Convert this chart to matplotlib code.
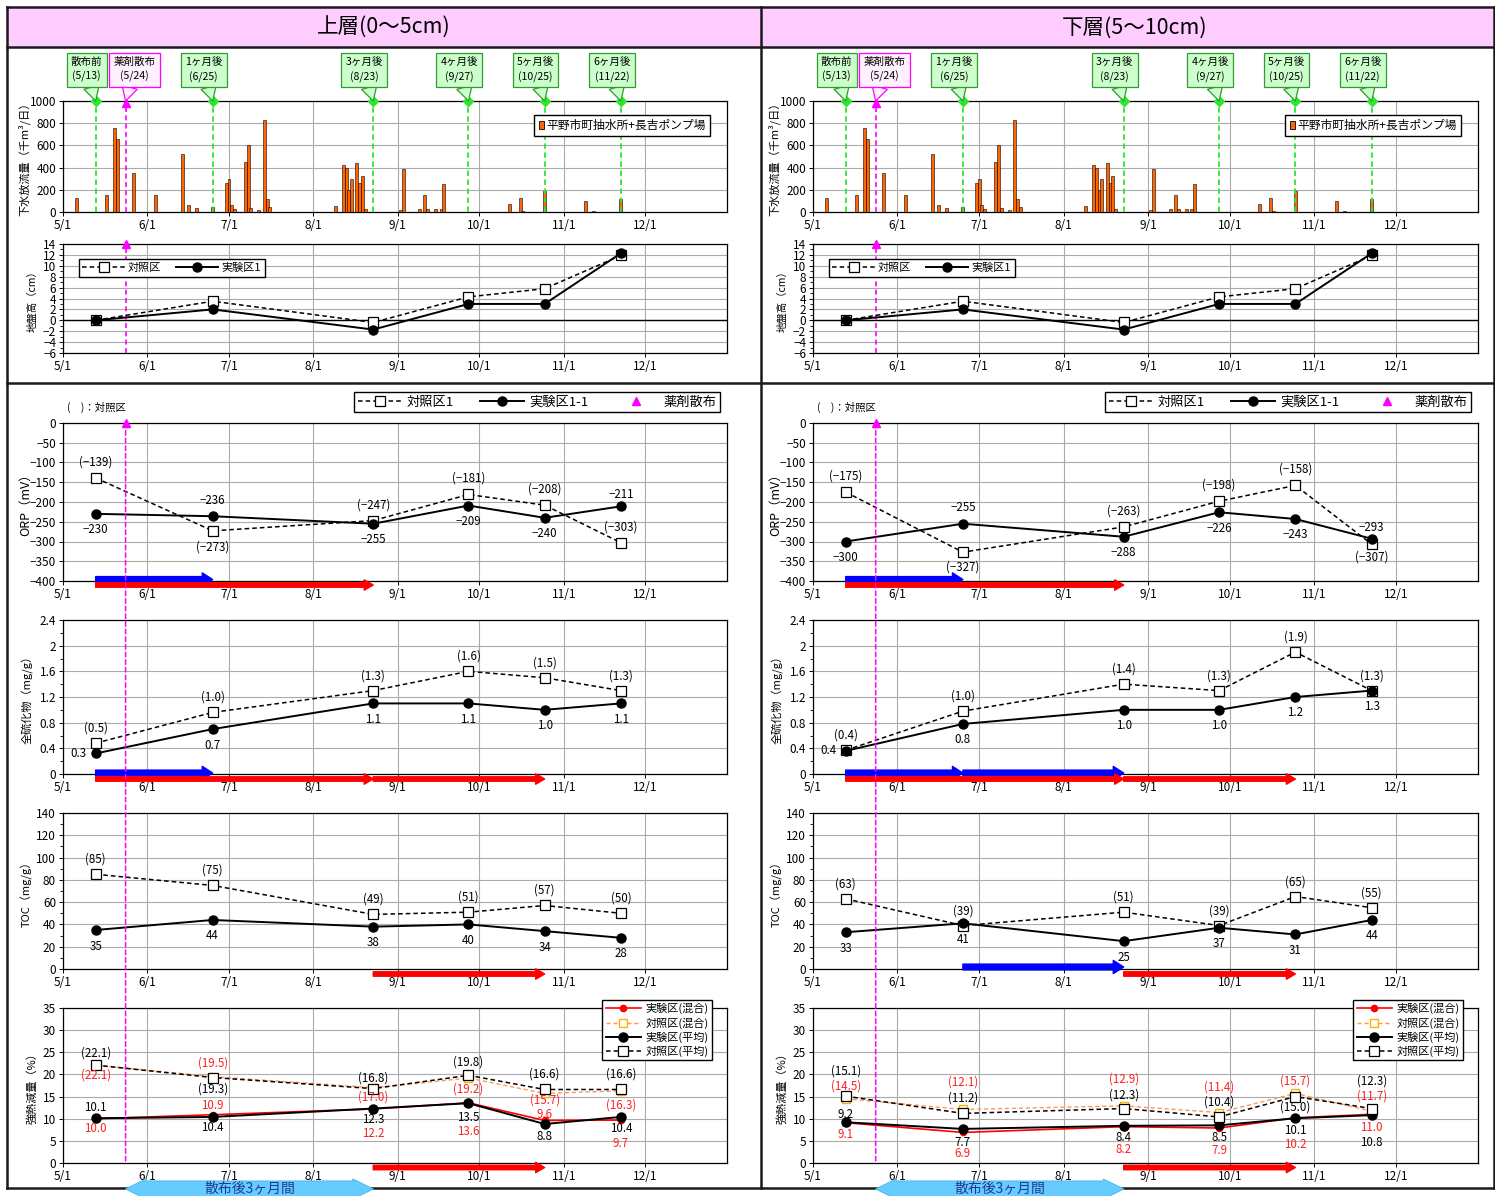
import datetime
import matplotlib
matplotlib.use('Agg')
import matplotlib.pyplot as plt
import matplotlib.dates as mdates
import matplotlib.transforms as mtransforms
from matplotlib import font_manager
from matplotlib.lines import Line2D
from matplotlib.patches import Rectangle, Polygon, ConnectionPatch
from matplotlib.ticker import MultipleLocator, AutoMinorLocator, FuncFormatter

YEAR = 2013

# --- events -------------------------------------------------------------
sample_dates = ['5/13', '6/25', '8/23', '9/27', '10/25', '11/22']
sample_names = ['散布前', '1ヶ月後', '3ヶ月後', '4ヶ月後', '5ヶ月後', '6ヶ月後']
spray_date = '5/24'
spray_name = '薬剤散布'

# --- daily sewage discharge (千m3/日) -----------------------------------
flow_dates = ['5/6', '5/17', '5/20', '5/21', '5/27', '6/4', '6/14', '6/16', '6/19', '6/25',
              '6/30', '7/1', '7/2', '7/3', '7/7', '7/8', '7/9', '7/12', '7/14', '7/15', '7/16',
              '8/9', '8/12', '8/13', '8/14', '8/15', '8/17', '8/18', '8/19', '8/20',
              '9/2', '9/3', '9/9', '9/11', '9/12', '9/15', '9/17', '9/18',
              '10/12', '10/16', '10/17', '10/25', '11/9', '11/12', '11/22']
flow_values = [130, 155, 760, 660, 350, 150, 520, 65, 40, 45,
               260, 295, 60, 30, 450, 600, 40, 20, 830, 115, 45,
               55, 425, 400, 200, 295, 445, 265, 325, 30,
               20, 390, 30, 150, 30, 30, 25, 255,
               75, 130, 10, 190, 100, 10, 120]

# --- ground height (cm) --------------------------------------------------
ground_ctl = [0.0, 3.5, -0.4, 4.3, 5.8, 11.9]
ground_exp = [0.0, 2.0, -1.7, 3.0, 3.0, 12.3]

# --- ORP (mV) -------------------------------------------------------------
orp_ctl_up = [-139, -273, -247, -181, -208, -303]
orp_exp_up = [-230, -236, -255, -209, -240, -211]
orp_ctl_lo = [-175, -327, -263, -198, -158, -307]
orp_exp_lo = [-300, -255, -288, -226, -243, -293]

# --- total sulfide (mg/g) ---------------------------------------------------
sulf_ctl_up = [0.48, 0.96, 1.30, 1.60, 1.50, 1.30]
sulf_exp_up = [0.32, 0.70, 1.10, 1.10, 1.00, 1.10]
sulf_ctl_lo = [0.37, 0.98, 1.40, 1.30, 1.90, 1.30]
sulf_exp_lo = [0.36, 0.78, 1.00, 1.00, 1.20, 1.30]

# --- TOC (mg/g) -----------------------------------------------------------
toc_ctl_up = [85, 75, 49, 51, 57, 50]
toc_exp_up = [35, 44, 38, 40, 34, 28]
toc_ctl_lo = [63, 39, 51, 39, 65, 55]
toc_exp_lo = [33, 41, 25, 37, 31, 44]

# --- ignition loss (%) ------------------------------------------------------
ign_exp_mix_up = [10.0, 10.9, 12.2, 13.6, 9.6, 9.7]
ign_ctl_mix_up = [22.1, 19.5, 17.0, 19.2, 15.7, 16.3]
ign_exp_avg_up = [10.1, 10.4, 12.3, 13.5, 8.8, 10.4]
ign_ctl_avg_up = [22.1, 19.3, 16.8, 19.8, 16.6, 16.6]
ign_exp_mix_lo = [9.1, 6.9, 8.2, 7.9, 10.2, 11.0]
ign_ctl_mix_lo = [14.5, 12.1, 12.9, 11.4, 15.7, 11.7]
ign_exp_avg_lo = [9.2, 7.7, 8.4, 8.5, 10.1, 10.8]
ign_ctl_avg_lo = [15.1, 11.2, 12.3, 10.4, 15.0, 12.3]

# --- period arrows under the charts (start, end) ---------------------------
orp_blue_up, orp_red_up = [('5/13', '6/25')], [('5/13', '8/23')]
sulf_blue_up, sulf_red_up = [('5/13', '6/25')], [('5/13', '8/23'), ('8/23', '10/25')]
toc_blue_up, toc_red_up = [], [('8/23', '10/25')]
ign_red_up = [('8/23', '10/25')]
orp_blue_lo, orp_red_lo = [('5/13', '6/25')], [('5/13', '8/23')]
sulf_blue_lo = [('5/13', '6/25'), ('6/25', '8/23')]
sulf_red_lo = [('5/13', '8/23'), ('8/23', '10/25')]
toc_blue_lo, toc_red_lo = [('6/25', '8/23')], [('8/23', '10/25')]
ign_red_lo = [('8/23', '10/25')]
span_label = '散布後3ヶ月間'
span_period = ('5/24', '8/23')

# --- label offsets in pixels (+ = up) --------------------------------------
orp_ctl_up_dy = [16, -16, 16, 16, 16, 16]
orp_exp_up_dy = [-16, 16, -16, -16, -16, 12]
orp_ctl_lo_dy = [16, -15, 16, 16, 16, -13]
orp_exp_lo_dy = [-16, 16, -16, -16, -16, 11]
ign_up_dy = dict(exp_mix=[-10, 9, -25, -29, 6, -23], ctl_mix=[-10, 14, -9, -11, -7, -14],
                 exp_avg=[11, -11, -11, -14, -12, -12], ctl_avg=[12, -12, 11, 13, 15, 15])
ign_lo_dy = dict(exp_mix=[-12, -21, -23, -22, -27, -13], ctl_mix=[13, 27, 27, 25, 12, 15],
                 exp_avg=[8, -14, -12, -12, -12, -27], ctl_avg=[25, 15, 13, 15, -10, 27])

# ---------------------------------------------------------------------------
plt.rcParams['font.family'] = ['Noto Sans CJK JP', 'DejaVu Sans']
installed = {f.name for f in font_manager.fontManager.ttflist}
if 'Liberation Sans Narrow' in installed:
    NUM_FONT = ['Liberation Sans Narrow', 'Noto Sans CJK JP', 'DejaVu Sans']
else:
    NUM_FONT = ['Noto Sans CJK JP', 'DejaVu Sans']

MAG = '#FF00FF'
GRN = '#2EE62E'
RED = '#FF0000'
BLUE = '#0000FF'


def dn(s):
    m, d = s.split('/')
    return mdates.date2num(datetime.date(YEAR, int(m), int(d)))


def md(v, pos=None):
    t = mdates.num2date(v)
    return f'{t.month}/{t.day}'


def minus(v):
    return str(v).replace('-', '\u2212')


W, H = 1495, 1196
fig = plt.figure(figsize=(W / 100, H / 100), dpi=100)

ROWS = {'flow': (101, 212), 'ground': (244, 353), 'orp': (423, 581),
        'sulf': (620, 774), 'toc': (813, 969), 'ign': (1008, 1163)}

CTL = dict(color='black', ls=(0, (3, 2)), lw=1.1, marker='s', ms=6.5, mfc='white', mec='black', mew=0.9)
EXP = dict(color='black', ls='-', lw=1.4, marker='o', ms=6.5, mfc='black', mec='black')
EXP_MIX = dict(color=RED, ls='-', lw=1.2, marker='o', ms=4.5, mfc=RED, mec=RED)
CTL_MIX = dict(color='#FF9955', ls=(0, (3, 2)), lw=1.0, marker='s', ms=5.5, mfc='white', mec='#FFB000', mew=1.0)

xs = [dn(s) for s in sample_dates]
xspray = dn(spray_date)


def frame_line(px, py, lw=1.8):
    fig.add_artist(Line2D([x / W for x in px], [1 - y / H for y in py], transform=fig.transFigure,
                          color='#1a1a1a', lw=lw, zorder=-1))


def make_ax(px0, px1, row):
    top, bot = ROWS[row]
    return fig.add_axes([px0 / W, 1 - bot / H, (px1 - px0) / W, (bot - top) / H])


def style(ax, lo, hi, step, ylabel, lab_x, minor=False, fmt=None, ylab_size=8):
    ax.set_xlim(dn('5/1'), dn('12/31'))
    ax.set_ylim(lo, hi)
    ax.yaxis.set_major_locator(MultipleLocator(step))
    if fmt is not None:
        ax.yaxis.set_major_formatter(FuncFormatter(fmt))
    if minor:
        ax.yaxis.set_minor_locator(AutoMinorLocator(2))
    ax.xaxis.set_major_locator(mdates.MonthLocator())
    ax.xaxis.set_major_formatter(FuncFormatter(md))
    ax.grid(True, which='major', color='#ABABAB', lw=0.8)
    ax.set_axisbelow(True)
    ax.tick_params(which='major', labelsize=8.5, length=3, width=0.7, pad=2, labelfontfamily=NUM_FONT)
    ax.tick_params(which='minor', length=2, width=0.6)
    for sp in ax.spines.values():
        sp.set_linewidth(0.9)
    ax.set_ylabel(ylabel, fontsize=ylab_size, va='center')
    ax.yaxis.set_label_coords(lab_x, 0.5)


def point_labels(ax, vals, fmt, dys, color='black', dxs=None):
    for i, (x, v) in enumerate(zip(xs, vals)):
        dx = dxs[i] if dxs else 0
        ax.annotate(fmt(v), (x, v), xytext=(dx * 0.72, dys[i] * 0.72), textcoords='offset points',
                    ha='center', va='center', fontsize=8.3, color=color, family=NUM_FONT, zorder=6)


def period_arrows(ax, periods, color, ypx, big):
    hpx = ax.bbox.height
    y = ypx / hpx
    if big:
        st = 'simple,head_length=0.75,head_width=0.95,tail_width=0.42'
    else:
        st = 'simple,head_length=0.65,head_width=0.75,tail_width=0.32'
    for a, b in periods:
        ax.annotate('', xy=(dn(b), y), xytext=(dn(a), y), xycoords=('data', 'axes fraction'),
                    textcoords=('data', 'axes fraction'), annotation_clip=False,
                    arrowprops=dict(arrowstyle=st, color=color, shrinkA=0, shrinkB=0, mutation_scale=10),
                    zorder=7)


def span_arrow(ax):
    trans = mtransforms.blended_transform_factory(ax.transData, ax.transAxes)
    x0, x1 = dn(span_period[0]), dn(span_period[1])
    hpx = ax.bbox.height
    yc, sh, hh, hl = -26 / hpx, 8 / hpx, 10 / hpx, 7.5
    pts = [(x0, yc), (x0 + hl, yc + hh), (x0 + hl, yc + sh), (x1 - hl, yc + sh), (x1 - hl, yc + hh),
           (x1, yc), (x1 - hl, yc - hh), (x1 - hl, yc - sh), (x0 + hl, yc - sh), (x0 + hl, yc - hh)]
    ax.add_patch(Polygon(pts, closed=True, transform=trans, fc='#66CCFF', ec='#55BBEE', lw=0.8,
                         clip_on=False, zorder=10))
    ax.text((x0 + x1) / 2, yc, span_label, transform=trans, ha='center', va='center', fontsize=10,
            color='#1F3A93', clip_on=False, zorder=11)


def draw_panel(px0, px1, title, d):
    # --- discharge bars with sampling callouts
    ax = make_ax(px0, px1, 'flow')
    style(ax, 0, 1000, 200, '下水放流量（千m³/日）', -0.058)
    ax.bar([dn(s) for s in flow_dates], flow_values, width=1.1, color='#FF6600', ec='black', lw=0.4,
           zorder=3)
    for s, nm in zip(sample_dates, sample_names):
        x = dn(s)
        ax.axvline(x, color=GRN, ls=(0, (3, 2)), lw=1.3, zorder=4)
        ax.plot([x], [1000], marker='D', ms=5.5, color=GRN, clip_on=False, zorder=6)
        ax.annotate(f'{nm}\n({s})', xy=(x, 1.0), xycoords=('data', 'axes fraction'),
                    xytext=(-6.5, 22.5), textcoords='offset points', ha='center', va='center',
                    fontsize=7.6, linespacing=1.45, annotation_clip=False, zorder=7,
                    bbox=dict(boxstyle='square,pad=0.4', fc='#CCFFCC', ec='#339933', lw=0.9),
                    arrowprops=dict(arrowstyle='wedge,tail_width=1.5', fc='#CCFFCC', ec='#339933',
                                    lw=0.9, shrinkA=0, shrinkB=0))
    ax.axvline(xspray, color=MAG, ls=(0, (3, 2)), lw=1.2, zorder=4)
    ax.plot([xspray], [985], marker='^', ms=6, color=MAG, clip_on=False, zorder=6)
    ax.annotate(f'{spray_name}\n({spray_date})', xy=(xspray, 1.0), xycoords=('data', 'axes fraction'),
                xytext=(6.5, 22.5), textcoords='offset points', ha='center', va='center',
                fontsize=7.6, linespacing=1.45, annotation_clip=False, zorder=7,
                bbox=dict(boxstyle='square,pad=0.4', fc='#FFF0FF', ec=MAG, lw=0.9),
                arrowprops=dict(arrowstyle='wedge,tail_width=1.5', fc='#FFF0FF', ec=MAG,
                                lw=0.9, shrinkA=0, shrinkB=0))
    ax.legend([Rectangle((0, 0), 1, 1, fc='#FF6600', ec='black', lw=0.6)], ['平野市町抽水所+長吉ポンプ場'],
              loc='upper right', bbox_to_anchor=(0.983, 0.93), fontsize=8.5, handlelength=0.45,
              handleheight=0.7, handletextpad=0.2, fancybox=False, edgecolor='black', framealpha=1,
              borderpad=0.35)

    # --- ground height
    ax = make_ax(px0, px1, 'ground')
    style(ax, -6, 14, 2, '地盤高（cm）', -0.045, minor=True, ylab_size=7.5)
    ax.axhline(0, color='black', lw=1.0, zorder=2)
    ax.axvline(xspray, color=MAG, ls=(0, (3, 2)), lw=1.2, zorder=3)
    ax.plot([xspray], [14], marker='^', ms=6, color=MAG, clip_on=False, zorder=6)
    ax.plot(xs, ground_ctl, **CTL, zorder=4)
    ax.plot(xs, ground_exp, **EXP, zorder=5)
    ax.legend([Line2D([], [], **CTL), Line2D([], [], **EXP)], ['対照区', '実験区1'], loc='upper left',
              bbox_to_anchor=(0.015, 0.91), ncol=2, fontsize=8, handlelength=3.8, columnspacing=1.3,
              handletextpad=0.3, fancybox=False, edgecolor='black', framealpha=1, borderpad=0.35)

    # --- ORP
    ax_orp = make_ax(px0, px1, 'orp')
    style(ax_orp, -400, 0, 50, 'ORP（mV）', -0.056, ylab_size=9)
    ax_orp.plot(xs, d['orp_ctl'], **CTL, zorder=4)
    ax_orp.plot(xs, d['orp_exp'], **EXP, zorder=5)
    point_labels(ax_orp, d['orp_ctl'], lambda v: f'({minus(v)})', d['orp_ctl_dy'])
    point_labels(ax_orp, d['orp_exp'], minus, d['orp_exp_dy'])
    ax_orp.plot([xspray], [0], marker='^', ms=6, color=MAG, clip_on=False, zorder=8)
    ax_orp.legend([Line2D([], [], **CTL), Line2D([], [], **EXP),
                   Line2D([], [], ls='none', marker='^', ms=6, color=MAG)],
                  ['対照区1', '実験区1-1', '薬剤散布'], loc='lower right', bbox_to_anchor=(1.0, 1.025),
                  ncol=3, fontsize=9.5, handlelength=3.3, columnspacing=2.0, handletextpad=0.4,
                  fancybox=False, edgecolor='black', framealpha=1, borderpad=0.3)
    ax_orp.text(0.006, 1.10, '(\u3000)：対照区', transform=ax_orp.transAxes, fontsize=7.5, va='center')
    period_arrows(ax_orp, d['orp_blue'], BLUE, 1.5, True)
    period_arrows(ax_orp, d['orp_red'], RED, -4, False)

    # --- total sulfide
    ax = make_ax(px0, px1, 'sulf')
    style(ax, 0, 2.4, 0.4, '全硫化物（mg/g）', -0.054, minor=True, fmt=lambda v, p: f'{v:g}')
    ax.plot(xs, d['sulf_ctl'], **CTL, zorder=4)
    ax.plot(xs, d['sulf_exp'], **EXP, zorder=5)
    point_labels(ax, d['sulf_ctl'], lambda v: f'({v:.1f})', [15] * 6)
    point_labels(ax, d['sulf_exp'], lambda v: f'{v:.1f}', [0] + [-16] * 5, dxs=[-17, 0, 0, 0, 0, 0])
    period_arrows(ax, d['sulf_blue'], BLUE, 1, True)
    period_arrows(ax, d['sulf_red'], RED, -5, False)

    # --- TOC
    ax = make_ax(px0, px1, 'toc')
    style(ax, 0, 140, 20, 'TOC（mg/g）', -0.054, minor=True)
    ax.plot(xs, d['toc_ctl'], **CTL, zorder=4)
    ax.plot(xs, d['toc_exp'], **EXP, zorder=5)
    point_labels(ax, d['toc_ctl'], lambda v: f'({v})', [15] * 6)
    point_labels(ax, d['toc_exp'], lambda v: f'{v}', [-16] * 6)
    period_arrows(ax, d['toc_blue'], BLUE, 2, True)
    period_arrows(ax, d['toc_red'], RED, -5, False)

    # --- ignition loss
    ax_ign = make_ax(px0, px1, 'ign')
    style(ax_ign, 0, 35, 5, '強熱減量（%）', -0.047)
    ax_ign.plot(xs, d['ign_exp_mix'], **EXP_MIX, zorder=4)
    ax_ign.plot(xs, d['ign_ctl_mix'], **CTL_MIX, zorder=4)
    ax_ign.plot(xs, d['ign_exp_avg'], **EXP, zorder=5)
    ax_ign.plot(xs, d['ign_ctl_avg'], **CTL, zorder=5)
    dy = d['ign_dy']
    point_labels(ax_ign, d['ign_exp_mix'], lambda v: f'{v:.1f}', dy['exp_mix'], color='#FF2020')
    point_labels(ax_ign, d['ign_ctl_mix'], lambda v: f'({v:.1f})', dy['ctl_mix'], color='#FF2020')
    point_labels(ax_ign, d['ign_exp_avg'], lambda v: f'{v:.1f}', dy['exp_avg'])
    point_labels(ax_ign, d['ign_ctl_avg'], lambda v: f'({v:.1f})', dy['ctl_avg'])
    ax_ign.legend([Line2D([], [], **EXP_MIX), Line2D([], [], **CTL_MIX),
                   Line2D([], [], **EXP), Line2D([], [], **CTL)],
                  ['実験区(混合)', '対照区(混合)', '実験区(平均)', '対照区(平均)'],
                  loc='upper right', bbox_to_anchor=(0.986, 1.09), fontsize=8, handlelength=3.2,
                  handletextpad=0.4, labelspacing=0.25, fancybox=False, edgecolor='black',
                  framealpha=1, borderpad=0.3)
    period_arrows(ax_ign, d['ign_red'], RED, -4.5, False)
    span_arrow(ax_ign)

    # spray line running through the lower four charts
    fig.add_artist(ConnectionPatch(xyA=(xspray, 0), coordsA=ax_orp.transData,
                                   xyB=(xspray, 0), coordsB=ax_ign.transData,
                                   color=MAG, ls=(0, (3, 2)), lw=1.1, zorder=3))

    # section title
    cx = (px0 - 56 + px1 + 34) / 2
    fig.text(cx / W, 1 - 28 / H, title, ha='center', va='center', fontsize=15.5)


# frame and title bands
fig.add_artist(Rectangle((7 / W, 1 - 47 / H), (1494 - 7) / W, 40 / H, transform=fig.transFigure,
                         fc='#FFCCFF', ec='none', zorder=-2))
frame_line([7, 1494], [7, 7])
frame_line([7, 1494], [47, 47])
frame_line([7, 1494], [383, 383])
frame_line([7, 1494], [1188, 1188])
frame_line([7, 7], [7, 1188])
frame_line([761, 761], [7, 1188])
frame_line([1494, 1494], [7, 1188])

upper = dict(orp_ctl=orp_ctl_up, orp_exp=orp_exp_up, orp_ctl_dy=orp_ctl_up_dy, orp_exp_dy=orp_exp_up_dy,
             sulf_ctl=sulf_ctl_up, sulf_exp=sulf_exp_up, toc_ctl=toc_ctl_up, toc_exp=toc_exp_up,
             ign_exp_mix=ign_exp_mix_up, ign_ctl_mix=ign_ctl_mix_up, ign_exp_avg=ign_exp_avg_up,
             ign_ctl_avg=ign_ctl_avg_up, ign_dy=ign_up_dy,
             orp_blue=orp_blue_up, orp_red=orp_red_up, sulf_blue=sulf_blue_up, sulf_red=sulf_red_up,
             toc_blue=toc_blue_up, toc_red=toc_red_up, ign_red=ign_red_up)
lower = dict(orp_ctl=orp_ctl_lo, orp_exp=orp_exp_lo, orp_ctl_dy=orp_ctl_lo_dy, orp_exp_dy=orp_exp_lo_dy,
             sulf_ctl=sulf_ctl_lo, sulf_exp=sulf_exp_lo, toc_ctl=toc_ctl_lo, toc_exp=toc_exp_lo,
             ign_exp_mix=ign_exp_mix_lo, ign_ctl_mix=ign_ctl_mix_lo, ign_exp_avg=ign_exp_avg_lo,
             ign_ctl_avg=ign_ctl_avg_lo, ign_dy=ign_lo_dy,
             orp_blue=orp_blue_lo, orp_red=orp_red_lo, sulf_blue=sulf_blue_lo, sulf_red=sulf_red_lo,
             toc_blue=toc_blue_lo, toc_red=toc_red_lo, ign_red=ign_red_lo)

draw_panel(63, 727, '上層(0～5cm)', upper)
draw_panel(813, 1478, '下層(5～10cm)', lower)

fig.savefig('out.png', dpi=100)
